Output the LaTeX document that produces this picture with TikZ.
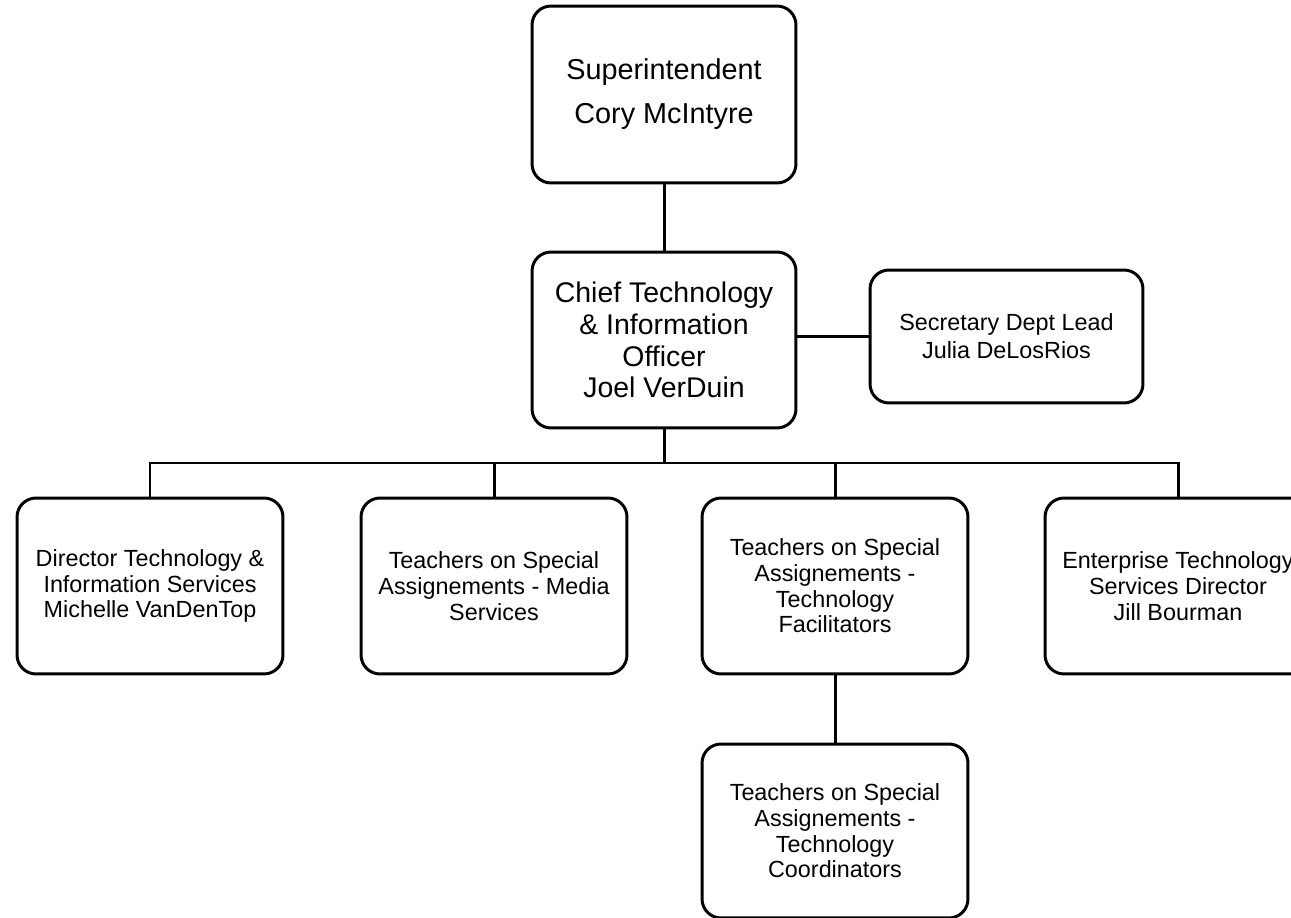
\documentclass[tikz,border=0pt]{standalone}
\usepackage{fontspec}
\setmainfont{Liberation Sans}
\usetikzlibrary{positioning, calc}
\tikzset{
    orgbox/.style args={#1 #2}{
        draw, rectangle, rounded corners=0.38cm, line width=1.7pt,
        minimum width=#1, minimum height=#2, inner sep=0pt, align=center
    },
    orgbox/.default={5.32cm 3.52cm},
    orgline/.style={line width=1.7pt}
}

\begin{document}
\begin{tikzpicture}[x=0.02cm, y=-0.02cm]
    \def \W {5.32cm}
    \def \H {3.52cm}
    \useasboundingbox (0,0) rectangle (1291,918);
    \node[orgbox={5.28cm 3.54cm}, font=\fontsize{16.4pt}{25pt}\selectfont] (super) at (664, 94.5)
        {Superintendent\\Cory McIntyre};
    \node[orgbox={5.28cm 3.52cm}, font=\fontsize{16.2pt}{18.1pt}\selectfont] (ctio) at (664, 340)
        {Chief Technology\\\& Information\\Officer\\Joel VerDuin};
    \node[orgbox={5.46cm 2.66cm}, font=\fontsize{13.3pt}{15.8pt}\selectfont] (sec) at (1006.5, 336.5)
        {Secretary Dept Lead\\Julia DeLosRios};
    \tikzset{every node/.append style={font=\fontsize{13.3pt}{14.6pt}\selectfont}}
    \node[orgbox] (dir) at (150, 586)
        {Director Technology \&\\Information Services\\Michelle VanDenTop};
    \node[orgbox] (media) at (494, 586)
        {Teachers on Special\\Assignements - Media\\Services};
    \node[orgbox] (facil) at (835, 586)
        {Teachers on Special\\Assignements -\\Technology\\Facilitators};
    \node[orgbox] (ent) at (1178, 586)
        {Enterprise Technology\\Services Director\\Jill Bourman};
    \node[orgbox={5.32cm 3.48cm}] (coord) at (835, 831)
        {Teachers on Special\\Assignements -\\Technology\\Coordinators};
    \coordinate (bus) at (664, 463);
    \draw[orgline] (super) -- (ctio);
    \draw[orgline] (sec.west) -- (sec.west -| ctio.east);
    \draw[orgline] (ctio) -- (bus);
    \draw[orgline] (dir.north) |- (bus) -| (ent.north);
    \draw[orgline] (media.north) -- (media.north |- bus);
    \draw[orgline] (facil.north) -- (facil.north |- bus);
    \draw[orgline] (facil) -- (coord);
\end{tikzpicture}
\end{document}
